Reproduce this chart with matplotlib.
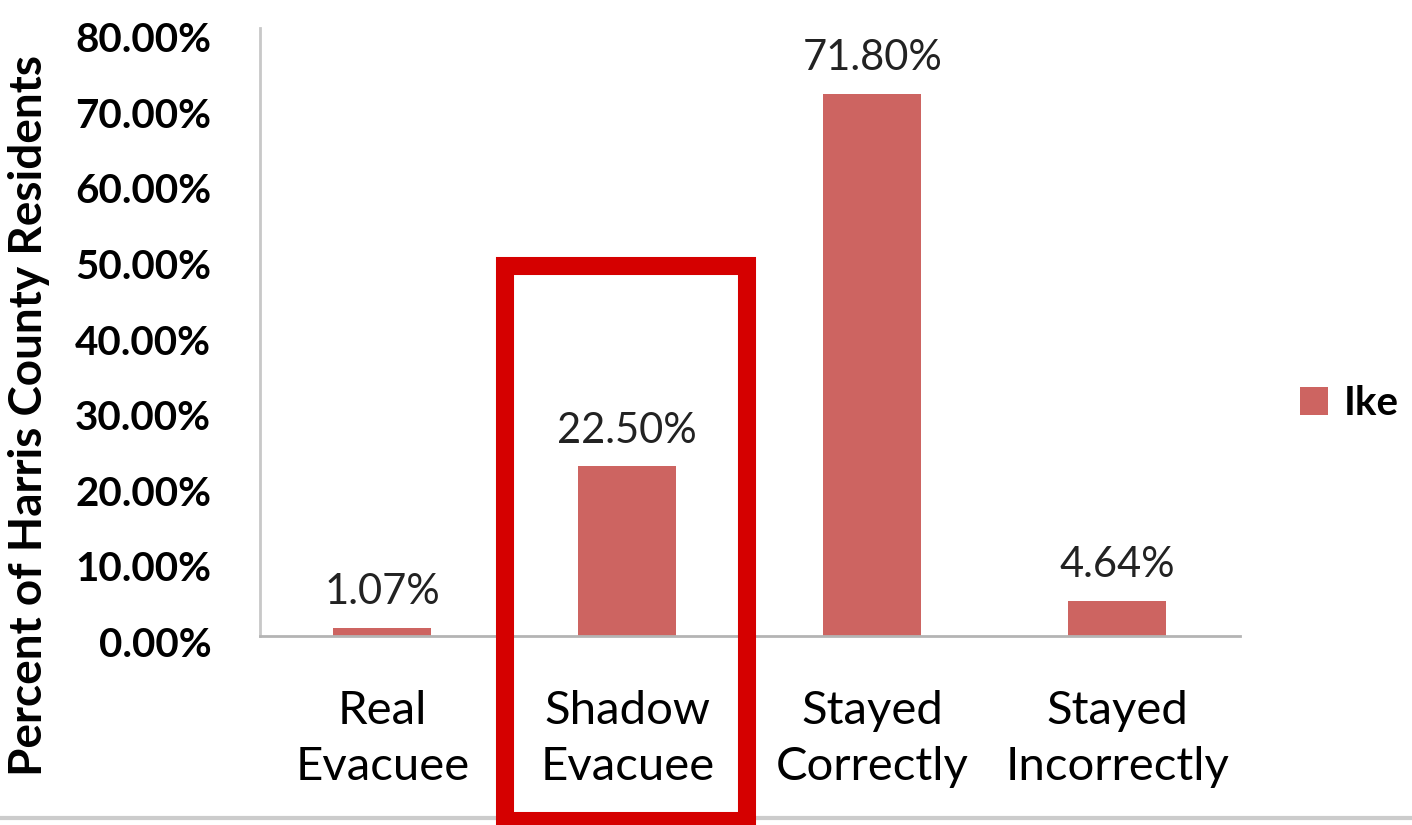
import numpy as np
import matplotlib.pyplot as plt
import matplotlib.transforms as mtransforms
from matplotlib.patches import Rectangle
from matplotlib.lines import Line2D

# Data
categories = ['Real\nEvacuee', 'Shadow\nEvacuee', 'Stayed\nCorrectly', 'Stayed\nIncorrectly']
ike_values = [1.07, 22.50, 71.80, 4.64]
y_ticks = [0, 10, 20, 30, 40, 50, 60, 70, 80]

bar_color = '#CD6461'
box_color = '#D50000'

plt.rcParams['font.family'] = ['Lato', 'DejaVu Sans']

fig = plt.figure(figsize=(14.12, 8.25), dpi=100)
ax = fig.add_axes([0.184, 0.229, 0.694, 0.737])

x = np.arange(len(categories))
bars = ax.bar(x, ike_values, width=0.4, color=bar_color, label='Ike')

# Value labels
for xi, v in zip(x, ike_values):
    ax.text(xi, v + 2.2, f'{v:.2f}%', ha='center', va='bottom', fontsize=30, color='#222222')

ax.set_xlim(-0.5, len(categories) - 0.5)
ax.set_ylim(0, 80.5)
ax.set_yticks(y_ticks)
ax.set_yticklabels([f'{t:.2f}%' for t in y_ticks], fontsize=29, fontweight='bold')
ax.set_xticks(x)
ax.set_xticklabels(categories, fontsize=34, linespacing=1.4)
ax.tick_params(axis='y', length=0, pad=35)
ax.tick_params(axis='x', length=0, pad=39)

# nudge y tick labels slightly downward, as in the original
shift = mtransforms.ScaledTranslation(0, -4 / 72, fig.dpi_scale_trans)
for lbl in ax.get_yticklabels():
    lbl.set_transform(lbl.get_transform() + shift)

ax.set_ylabel('Percent of Harris County Residents', fontsize=33, fontweight='bold')
ax.yaxis.set_label_coords(-0.214, 0.363)

for s in ['top', 'right']:
    ax.spines[s].set_visible(False)
ax.spines['left'].set_color('#c8c8c8')
ax.spines['left'].set_linewidth(2)
ax.spines['bottom'].set_color('#b4b4b4')
ax.spines['bottom'].set_linewidth(2)

# Light gray rule at the bottom of the figure
fig.add_artist(Line2D([0, 1], [0.008, 0.008], transform=fig.transFigure,
                      color='#cccccc', linewidth=3, zorder=0))

# Highlight box around Shadow Evacuee
ax.add_patch(Rectangle((0.502, -24.5), 0.988, 73.5, fill=False, edgecolor=box_color,
                       linewidth=13, clip_on=False, zorder=5))

# Legend
ax.legend(loc='center left', bbox_to_anchor=(1.061, 0.383), frameon=False, borderpad=0,
          borderaxespad=0, prop={'size': 29, 'weight': 'bold'}, handlelength=0.7,
          handleheight=0.7, handletextpad=0.4)

fig.savefig('out.png', dpi=100)
